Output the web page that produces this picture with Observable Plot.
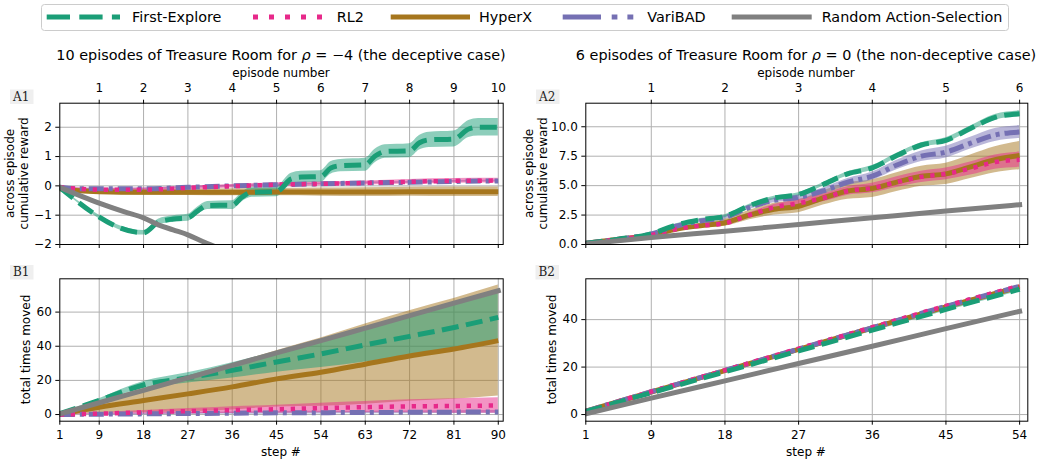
<!DOCTYPE html>
<html><head><meta charset="utf-8">
<script src="https://cdn.jsdelivr.net/npm/d3@7"></script>
<script src="https://cdn.jsdelivr.net/npm/@observablehq/plot@0.6"></script>
<style>
html,body{margin:0;padding:0;background:#fff;}
#root{position:relative;width:1044px;height:460px;overflow:hidden;background:#fff;font-family:"DejaVu Sans",sans-serif;}
</style></head><body><div id="root"></div>
<script>
// ---------- categories ----------
const METHODS = ["First-Explore", "RL2", "HyperX", "VariBAD", "Random Action-Selection"];

// ---------- tick labels ----------
const STEP_TICKS_10 = [1, 9, 18, 27, 36, 45, 54, 63, 72, 81, 90];
const EPISODE_STEPS_10 = [9, 18, 27, 36, 45, 54, 63, 72, 81, 90];
const EPISODE_LABELS_10 = ["1", "2", "3", "4", "5", "6", "7", "8", "9", "10"];
const STEP_TICKS_6 = [1, 9, 18, 27, 36, 45, 54];
const EPISODE_STEPS_6 = [9, 18, 27, 36, 45, 54];
const EPISODE_LABELS_6 = ["1", "2", "3", "4", "5", "6"];
const A1_Y_TICKS = [-2, -1, 0, 1, 2];
const A2_Y_TICKS = [0, 2.5, 5, 7.5, 10];
const B1_Y_TICKS = [0, 20, 40, 60];
const B2_Y_TICKS = [0, 20, 40];

// ---------- A1: cumulative reward, rho = -4 ----------
const A1_FE_STEP = [1, 18, 21, 24, 27, 29, 31, 36, 38, 40, 45, 48, 50, 54, 56, 58, 63, 65, 67, 72, 74, 76, 81, 84, 86, 90];
const A1_FE_MEAN = [-0.05, -1.6, -1.24, -1.13, -1.09, -0.85, -0.67, -0.66, -0.38, -0.22, -0.19, 0.24, 0.3, 0.32, 0.61, 0.69, 0.72, 1.02, 1.17, 1.2, 1.47, 1.57, 1.6, 1.94, 2.0, 2.0];
const A1_FE_SD = [0.02, 0.08, 0.1, 0.11, 0.12, 0.13, 0.14, 0.15, 0.16, 0.17, 0.18, 0.19, 0.2, 0.2, 0.21, 0.21, 0.22, 0.23, 0.23, 0.24, 0.25, 0.26, 0.27, 0.29, 0.3, 0.3];
const A1_STEP = [1, 5, 9, 18, 27, 36, 45, 54, 63, 72, 81, 90];
const A1_RL2_MEAN = [-0.05, -0.1, -0.13, -0.13, -0.07, -0.01, 0.04, 0.07, 0.1, 0.14, 0.17, 0.18];
const A1_RL2_SD = [0.02, 0.04, 0.05, 0.06, 0.06, 0.06, 0.07, 0.07, 0.07, 0.08, 0.08, 0.08];
const A1_VB_MEAN = [-0.05, -0.1, -0.1, -0.1, -0.05, 0.0, 0.04, 0.07, 0.1, 0.12, 0.15, 0.17];
const A1_VB_SD = [0.01, 0.02, 0.02, 0.03, 0.03, 0.03, 0.03, 0.03, 0.03, 0.03, 0.03, 0.03];
const A1_HX_MEAN = [-0.1, -0.17, -0.2, -0.22, -0.22, -0.22, -0.21, -0.21, -0.21, -0.2, -0.2, -0.2];
const A1_HX_SD = [0.02, 0.06, 0.08, 0.1, 0.11, 0.12, 0.13, 0.14, 0.15, 0.15, 0.16, 0.16];
const A1_RAND_STEP = [1, 9, 14, 18, 21, 24, 27, 30, 33, 36];
const A1_RAND_MEAN = [-0.05, -0.59, -0.88, -1.09, -1.33, -1.5, -1.67, -1.9, -2.1, -2.3];

// ---------- A2: cumulative reward, rho = 0 ----------
const A2_STEP = [1, 5, 9, 12, 15, 18, 21, 24, 27, 30, 33, 36, 39, 42, 45, 48, 51, 54];
const A2_FE_MEAN = [0.1, 0.45, 0.9, 1.65, 2.1, 2.4, 3.3, 3.95, 4.25, 5.1, 6.0, 6.5, 7.55, 8.45, 8.85, 9.85, 10.8, 11.1];
const A2_FE_SD = [0.02, 0.05, 0.08, 0.1, 0.1, 0.12, 0.12, 0.15, 0.15, 0.15, 0.18, 0.2, 0.2, 0.2, 0.22, 0.22, 0.25, 0.25];
const A2_VB_MEAN = [0.1, 0.45, 0.9, 1.55, 2.0, 2.3, 3.15, 3.75, 4.0, 4.55, 5.3, 5.8, 6.75, 7.5, 7.85, 8.6, 9.3, 9.55];
const A2_VB_SD = [0.02, 0.05, 0.08, 0.1, 0.12, 0.15, 0.18, 0.2, 0.22, 0.25, 0.3, 0.35, 0.4, 0.45, 0.5, 0.5, 0.55, 0.55];
const A2_HX_MEAN = [0.1, 0.45, 0.8, 1.3, 1.6, 1.85, 2.5, 3.0, 3.25, 3.95, 4.55, 4.75, 5.3, 5.8, 6.0, 6.6, 7.2, 7.55];
const A2_HX_SD = [0.02, 0.05, 0.1, 0.15, 0.2, 0.3, 0.4, 0.5, 0.55, 0.6, 0.7, 0.75, 0.8, 0.85, 0.9, 1.0, 1.1, 1.2];
const A2_RL2_MEAN = [0.1, 0.45, 0.8, 1.3, 1.6, 1.8, 2.5, 3.15, 3.5, 3.95, 4.55, 4.8, 5.3, 5.75, 6.0, 6.45, 7.0, 7.2];
const A2_RL2_SD = [0.02, 0.05, 0.08, 0.1, 0.12, 0.15, 0.2, 0.25, 0.3, 0.33, 0.36, 0.4, 0.45, 0.48, 0.5, 0.55, 0.6, 0.65];
const A2_RAND_STEP = [1, 9, 18, 27, 36, 45, 54];
const A2_RAND_MEAN = [0.05, 0.6, 1.13, 1.7, 2.27, 2.84, 3.38];

// ---------- B1: total times moved, rho = -4 ----------
const B1_STEP = [1, 9, 18, 27, 36, 45, 54, 63, 72, 81, 90];
const B1_FE_MEAN = [0.5, 8.3, 17.3, 21.5, 25.9, 30.8, 35.5, 40.8, 45.8, 51.0, 56.9];
const B1_FE_SD = [0, 1, 2, 3, 4.5, 6, 8, 10, 11.5, 13, 14];
const B1_RL2_MEAN = [0, 0.5, 1.3, 2.0, 2.6, 3.1, 3.8, 4.3, 4.8, 5.0, 5.3];
const B1_RL2_SD = [0, 0.5, 1, 1.5, 2, 2.3, 2.8, 3.3, 3.8, 4.2, 4.5];
const B1_HX_MEAN = [0.3, 4.3, 8.2, 12.1, 16.2, 20.9, 24.8, 29.5, 34.3, 38.4, 43.3];
const B1_HX_SD = [0.3, 3.5, 7, 10.5, 13.5, 16.5, 20, 23.5, 26.5, 29.5, 32.5];
const B1_VB_MEAN = [0, 0.2, 0.4, 0.6, 0.8, 1.0, 1.1, 1.2, 1.3, 1.4, 1.5];
const B1_VB_SD = [0, 0.3, 0.5, 0.6, 0.7, 0.8, 0.8, 0.8, 0.8, 0.8, 0.8];
const B1_RAND_MEAN = [0.4, 6.9, 14.2, 21.5, 28.8, 36.1, 43.3, 50.6, 57.9, 65.2, 72.5];

// ---------- B2: total times moved, rho = 0 ----------
const B2_STEP = [1, 9, 18, 27, 36, 45, 54];
const B2_FE_MEAN = [1.3, 9.2, 18.0, 26.8, 35.6, 44.3, 52.8];
const B2_FE_SD = [0.1, 0.3, 0.4, 0.5, 0.6, 0.7, 0.8];
const B2_RL2_MEAN = [1.4, 9.7, 18.7, 27.8, 36.8, 45.8, 54.2];
const B2_RL2_SD = [0.1, 0.2, 0.2, 0.3, 0.3, 0.3, 0.3];
const B2_HX_MEAN = [1.4, 9.5, 18.5, 27.5, 36.5, 45.4, 53.8];
const B2_HX_SD = [0.1, 0.2, 0.3, 0.3, 0.4, 0.4, 0.4];
const B2_VB_MEAN = [1.4, 9.6, 18.6, 27.6, 36.6, 45.6, 54.0];
const B2_VB_SD = [0.1, 0.2, 0.2, 0.2, 0.2, 0.2, 0.2];
const B2_RAND_MEAN = [0.3, 6.9, 14.2, 21.5, 28.8, 36.2, 43.5];

// ---------- styles ----------
const COLORS = ["#1b9e77", "#e7298a", "#a6761d", "#7570b3", "#808080"];
const LINE = {
  "First-Explore": {dash: "17,7.5", width: 5, cap: "butt"},
  "RL2": {dash: "4.3,6.7", width: 4.5, cap: "butt"},
  "HyperX": {dash: null, width: 5, cap: "butt"},
  "VariBAD": {dash: "15,5,4,5", width: 5, cap: "butt"},
  "Random Action-Selection": {dash: null, width: 5, cap: "square"}
};
const colorOf = (m) => COLORS[METHODS.indexOf(m)];

function rows(steps, mean, sd) {
  return steps.map((s, i) => ({step: s, mean: mean[i], lo: sd ? mean[i] - sd[i] : mean[i], hi: sd ? mean[i] + sd[i] : mean[i]}));
}
const minus = (d) => (d < 0 ? "\u2212" + Math.abs(d) : String(d));

function makePanel(cfg) {
  const series = cfg.series; // [{method, data, band}]
  const bandOrder = ["HyperX", "VariBAD", "RL2", "First-Explore"];
  const lineOrder = ["HyperX", "VariBAD", "RL2", "First-Explore", "Random Action-Selection"];
  const marks = [
    Plot.ruleX(cfg.xGrid, {x: (d) => d, stroke: "#b0b0b0", strokeWidth: 1}),
    Plot.ruleY(cfg.yTicks, {y: (d) => d, stroke: "#b0b0b0", strokeWidth: 1})
  ];
  for (const m of bandOrder) {
    const s = series.find((d) => d.method === m);
    if (!s || !s.band) continue;
    marks.push(Plot.areaY(s.data, {x: "step", y1: "lo", y2: "hi", fill: colorOf(m), fillOpacity: 0.5, curve: "monotone-x", clip: true}));
  }
  for (const m of lineOrder) {
    const s = series.find((d) => d.method === m);
    if (!s) continue;
    const st = LINE[m];
    const o = {x: "step", y: "mean", stroke: colorOf(m), strokeWidth: st.width, strokeLinecap: st.cap, strokeLinejoin: "round", curve: "monotone-x", clip: true};
    if (st.dash) o.strokeDasharray = st.dash;
    marks.push(Plot.line(s.data, o));
  }
  marks.push(Plot.frame({stroke: "black", strokeWidth: 1}));
  marks.push(Plot.axisY(cfg.yTicks, {anchor: "left", tickSize: 4, tickPadding: 4, tickFormat: cfg.yFormat, label: null, fontSize: 12, stroke: "black", fill: "black"}));
  if (cfg.bottomLabels) {
    marks.push(Plot.axisX(cfg.stepTicks, {anchor: "bottom", tickSize: 4, tickPadding: 5, tickFormat: (d) => String(d), label: null, fontSize: 12, stroke: "black", fill: "black"}));
  } else {
    marks.push(Plot.axisX(cfg.stepTicks, {anchor: "bottom", tickSize: 4, tickFormat: () => "", label: null, stroke: "black"}));
  }
  if (cfg.topTicks) {
    const lab = new Map(cfg.topTicks.map((t, i) => [t, cfg.topLabels[i]]));
    marks.push(Plot.axisX(cfg.topTicks, {anchor: "top", tickSize: 4, tickPadding: 7.5, tickFormat: (d) => lab.get(d), label: null, fontSize: 12, stroke: "black", fill: "black"}));
  }
  const svg = Plot.plot({
    width: cfg.width, height: cfg.height,
    marginLeft: cfg.mL, marginRight: cfg.mR, marginTop: cfg.mT, marginBottom: cfg.mB,
    x: {domain: cfg.xDomain, label: null},
    y: {domain: cfg.yDomain, label: null},
    style: {fontFamily: "DejaVu Sans", fontSize: "12px", color: "black", background: "transparent", overflow: "visible"},
    marks
  });
  svg.style.position = "absolute";
  svg.style.left = cfg.left + "px";
  svg.style.top = cfg.top + "px";
  svg.style.maxWidth = "none";
  return svg;
}

const root = document.getElementById("root");

root.appendChild(makePanel({
  left: 0, top: 62, width: 520, height: 198, mL: 59.3, mR: 17.3, mT: 40.7, mB: 16,
  xDomain: [1, 91], yDomain: [-2, 2.82], xGrid: EPISODE_STEPS_10, yTicks: A1_Y_TICKS, yFormat: minus,
  stepTicks: STEP_TICKS_10, bottomLabels: false, topTicks: EPISODE_STEPS_10, topLabels: EPISODE_LABELS_10,
  series: [
    {method: "First-Explore", data: rows(A1_FE_STEP, A1_FE_MEAN, A1_FE_SD), band: true},
    {method: "RL2", data: rows(A1_STEP, A1_RL2_MEAN, A1_RL2_SD), band: true},
    {method: "HyperX", data: rows(A1_STEP, A1_HX_MEAN, A1_HX_SD), band: true},
    {method: "VariBAD", data: rows(A1_STEP, A1_VB_MEAN, A1_VB_SD), band: true},
    {method: "Random Action-Selection", data: rows(A1_RAND_STEP, A1_RAND_MEAN), band: false}
  ]
}));

root.appendChild(makePanel({
  left: 520, top: 62, width: 524, height: 198, mL: 65.3, mR: 16.7, mT: 40.7, mB: 16,
  xDomain: [1, 55], yDomain: [0, 12.0], xGrid: EPISODE_STEPS_6, yTicks: A2_Y_TICKS, yFormat: (d) => d.toFixed(1),
  stepTicks: STEP_TICKS_6, bottomLabels: false, topTicks: EPISODE_STEPS_6, topLabels: EPISODE_LABELS_6,
  series: [
    {method: "First-Explore", data: rows(A2_STEP, A2_FE_MEAN, A2_FE_SD), band: true},
    {method: "RL2", data: rows(A2_STEP, A2_RL2_MEAN, A2_RL2_SD), band: true},
    {method: "HyperX", data: rows(A2_STEP, A2_HX_MEAN, A2_HX_SD), band: true},
    {method: "VariBAD", data: rows(A2_STEP, A2_VB_MEAN, A2_VB_SD), band: true},
    {method: "Random Action-Selection", data: rows(A2_RAND_STEP, A2_RAND_MEAN), band: false}
  ]
}));

root.appendChild(makePanel({
  left: 0, top: 260, width: 520, height: 200, mL: 59.3, mR: 17.3, mT: 18.3, mB: 39.3,
  xDomain: [1, 91], yDomain: [-3.9, 79.5], xGrid: EPISODE_STEPS_10, yTicks: B1_Y_TICKS, yFormat: (d) => String(d),
  stepTicks: STEP_TICKS_10, bottomLabels: true,
  series: [
    {method: "First-Explore", data: rows(B1_STEP, B1_FE_MEAN, B1_FE_SD), band: true},
    {method: "RL2", data: rows(B1_STEP, B1_RL2_MEAN, B1_RL2_SD), band: true},
    {method: "HyperX", data: rows(B1_STEP, B1_HX_MEAN, B1_HX_SD), band: true},
    {method: "VariBAD", data: rows(B1_STEP, B1_VB_MEAN, B1_VB_SD), band: true},
    {method: "Random Action-Selection", data: rows(B1_STEP, B1_RAND_MEAN), band: false}
  ]
}));

root.appendChild(makePanel({
  left: 520, top: 260, width: 524, height: 200, mL: 65.3, mR: 16.7, mT: 18.3, mB: 39.3,
  xDomain: [1, 55], yDomain: [-2.8, 57.2], xGrid: EPISODE_STEPS_6, yTicks: B2_Y_TICKS, yFormat: (d) => String(d),
  stepTicks: STEP_TICKS_6, bottomLabels: true,
  series: [
    {method: "First-Explore", data: rows(B2_STEP, B2_FE_MEAN, B2_FE_SD), band: true},
    {method: "RL2", data: rows(B2_STEP, B2_RL2_MEAN, B2_RL2_SD), band: true},
    {method: "HyperX", data: rows(B2_STEP, B2_HX_MEAN, B2_HX_SD), band: true},
    {method: "VariBAD", data: rows(B2_STEP, B2_VB_MEAN, B2_VB_SD), band: true},
    {method: "Random Action-Selection", data: rows(B2_STEP, B2_RAND_MEAN), band: false}
  ]
}));

// ---------- legend, titles, labels (text overlay) ----------
const LEG_X = [[46.7, 120, 132], [253, 322.7, 336.7], [390.7, 470, 479], [562.7, 633.3, 647.3], [731.7, 811.7, 821.7]];
const LEG_DASH = ["23.3,9.3", "5,11", null, "38.3,10.7,5.7,10", null];
let ov = `<svg xmlns="http://www.w3.org/2000/svg" width="1044" height="460" style="position:absolute;left:0;top:0;pointer-events:none;font-family:'DejaVu Sans'">`;
ov += `<rect x="41.5" y="4.5" width="967" height="26" rx="3" fill="white" stroke="#cccccc" stroke-width="1"/>`;
METHODS.forEach((m, i) => {
  const [x1, x2, tx] = LEG_X[i];
  ov += `<line x1="${x1}" x2="${x2}" y1="17" y2="17" stroke="${COLORS[i]}" stroke-width="5" ${LEG_DASH[i] ? `stroke-dasharray="${LEG_DASH[i]}"` : ""}/>`;
  ov += `<text x="${tx}" y="21.7" font-size="14.4" fill="black">${m}</text>`;
});
ov += `<text x="281" y="60" font-size="14.4" text-anchor="middle" fill="black">10 episodes of Treasure Room for <tspan font-style="italic">ρ</tspan> = −4 (the deceptive case)</text>`;
ov += `<text x="806" y="60" font-size="14.4" text-anchor="middle" fill="black">6 episodes of Treasure Room for <tspan font-style="italic">ρ</tspan> = 0 (the non-deceptive case)</text>`;
ov += `<text x="281" y="77" font-size="12" text-anchor="middle" fill="black">episode number</text>`;
ov += `<text x="806" y="77" font-size="12" text-anchor="middle" fill="black">episode number</text>`;
ov += `<text x="281" y="455.5" font-size="12" text-anchor="middle" fill="black">step #</text>`;
ov += `<text x="806" y="455.5" font-size="12" text-anchor="middle" fill="black">step #</text>`;
const yl = (x, y, t) => `<text transform="translate(${x},${y}) rotate(-90)" font-size="12" text-anchor="middle" fill="black">${t}</text>`;
ov += yl(14, 173.4, "across episode") + yl(28.3, 173.4, "cumulative reward");
ov += yl(532.5, 173.4, "across episode") + yl(547, 173.4, "cumulative reward");
ov += yl(30, 349.5, "total times moved") + yl(555.5, 349.5, "total times moved");
const pl = (x, y, t) => `<rect x="${x}" y="${y}" width="23.5" height="14.5" fill="#efefef"/><text x="${x + 3}" y="${y + 11}" font-size="12" font-family="'DejaVu Serif'" fill="#222">${t}</text>`;
ov += pl(10, 89.5, "A1") + pl(536, 89.5, "A2") + pl(10, 265, "B1") + pl(535.5, 265, "B2");
ov += `</svg>`;
root.insertAdjacentHTML("beforeend", ov);
</script></body></html>
